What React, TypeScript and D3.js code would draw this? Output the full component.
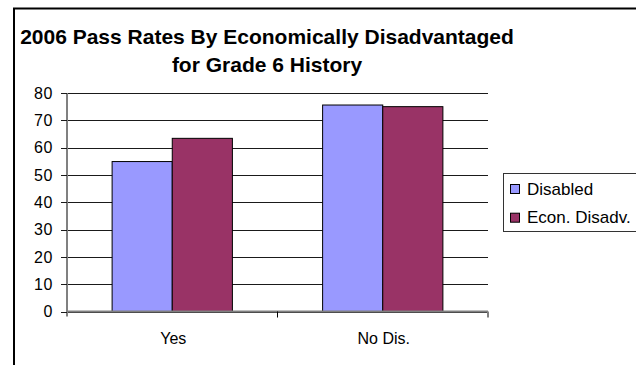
import React from "react";
import * as d3 from "d3";

const categories = ["Yes", "No Dis."];
const seriesNames = ["Disabled", "Econ. Disadv."];
const disabledValues = [54.9, 75.6];
const econDisadvValues = [63.4, 75.0];
const yTicks = [0, 10, 20, 30, 40, 50, 60, 70, 80];
const titleLines = ["2006 Pass Rates By Economically Disadvantaged", "for Grade 6 History"];

const seriesColors = ["#9999FF", "#993366"];
const W = 636;
const H = 365;
const plot = { left: 67, right: 488, top: 93, bottom: 311.5 };
const FONT = "Arial, 'Liberation Sans', Helvetica, sans-serif";

export default function App() {
  const x = d3.scaleBand<string>().domain(categories).range([plot.left, plot.right]);
  const y = d3.scaleLinear().domain([0, 80]).range([plot.bottom, plot.top]);
  // gap width 150%: two bars share band / (2 + 1.5) each
  const groupW = (x.bandwidth() * 2) / 3.5;
  const inner = d3.scaleBand<number>().domain([0, 1]).range([0, groupW]);
  const series = [disabledValues, econDisadvValues];

  return (
    <svg
      width={W}
      height={H}
      style={{ position: "absolute", left: 0, top: 0, background: "#fff" }}
      fontFamily={FONT}
    >
      <rect x={0} y={0} width={W} height={H} fill="#fff" />
      {/* chart area border */}
      <rect x={14} y={8.5} width={W} height={H} fill="none" stroke="#000" strokeWidth={2} />

      {titleLines.map((t, i) => (
        <text
          key={t}
          x={267}
          y={44 + i * 28}
          textAnchor="middle"
          fontSize={21}
          fontWeight="bold"
          fill="#000"
        >
          {t}
        </text>
      ))}

      {/* gridlines */}
      {yTicks.map((v) => (
        <line
          key={"g" + v}
          x1={plot.left}
          x2={plot.right}
          y1={Math.round(y(v)) + 0.5}
          y2={Math.round(y(v)) + 0.5}
          stroke="#1a1a1a"
          strokeWidth={1}
        />
      ))}

      {/* bars */}
      {categories.map((c, ci) => {
        const gx = x(c)! + (x.bandwidth() - groupW) / 2;
        return series.map((vals, si) => (
          <rect
            key={c + si}
            x={gx + inner(si)!}
            y={y(vals[ci])}
            width={inner.bandwidth()}
            height={y(0) - y(vals[ci])}
            fill={seriesColors[si]}
            stroke="#000"
            strokeWidth={1}
          />
        ));
      })}

      {/* value axis */}
      <line x1={plot.left} x2={plot.left} y1={plot.top} y2={plot.bottom + 5} stroke="#808080" strokeWidth={2} />
      {yTicks.map((v) => (
        <g key={"t" + v}>
          <line
            x1={plot.left - 6}
            x2={plot.left}
            y1={Math.round(y(v)) + 0.5}
            y2={Math.round(y(v)) + 0.5}
            stroke="#1a1a1a"
          />
          <text
            x={53}
            y={y(v)}
            dy="0.36em"
            textAnchor="end"
            fontSize={16}
            letterSpacing={0.6}
            fill="#000"
          >
            {v}
          </text>
        </g>
      ))}

      {/* category axis */}
      <line x1={plot.left} x2={plot.right} y1={plot.bottom} y2={plot.bottom} stroke="#808080" strokeWidth={2} />
      {categories.map((c, i) => (
        <g key={"c" + c}>
          <line
            x1={x(c)! + x.bandwidth()}
            x2={x(c)! + x.bandwidth()}
            y1={plot.bottom}
            y2={plot.bottom + 6}
            stroke={i === categories.length - 1 ? "#808080" : "#000"}
            strokeWidth={i === categories.length - 1 ? 2 : 1}
          />
          <text x={x(c)! + x.bandwidth() / 2 + 1} y={344} textAnchor="middle" fontSize={16} fill="#000">
            {c}
          </text>
        </g>
      ))}

      {/* legend */}
      <rect x={503.5} y={173.5} width={W} height={58} fill="#fff" stroke="#333" strokeWidth={1} />
      {seriesNames.map((n, i) => (
        <g key={n} transform={`translate(0, ${i * 28.7})`}>
          <rect x={510.5} y={184.5} width={9} height={9} fill={seriesColors[i]} stroke="#000" strokeWidth={1} />
          <text x={527} y={194.5} fontSize={17} fill="#000">
            {n}
          </text>
        </g>
      ))}
    </svg>
  );
}
